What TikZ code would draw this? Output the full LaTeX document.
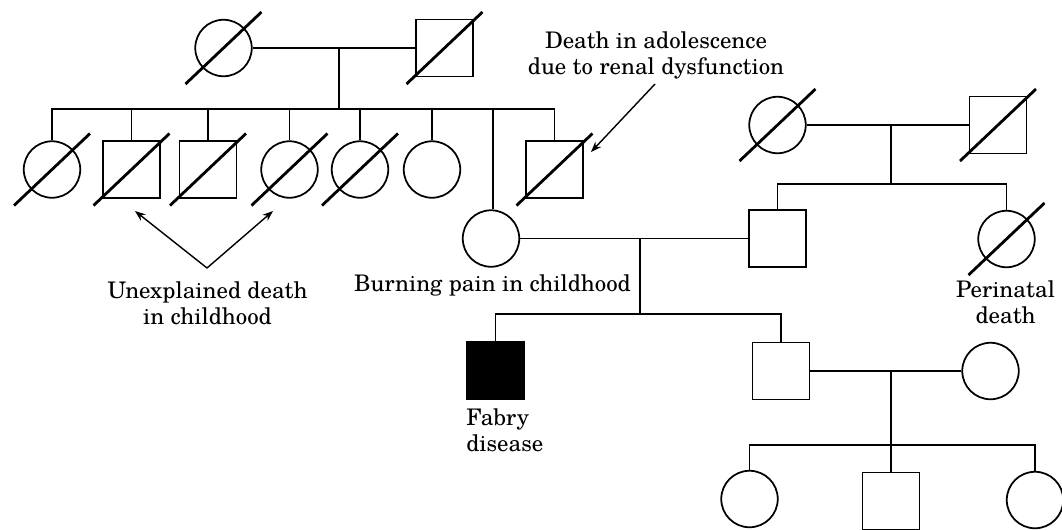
\documentclass[tikz,border=0pt]{standalone}
\usepackage{fontspec}
\setmainfont{TeX Gyre Schola}
\usepackage{tikz}
\usetikzlibrary{arrows.meta, calc}

\tikzset{
  female/.style={circle, draw, line width=1pt, minimum size=1.13cm, inner sep=0pt},
  male/.style={rectangle, draw, line width=1pt, minimum size=1.14cm, inner sep=0pt},
  affected/.style={fill=black},
  slash/.style={line width=1.6pt},
  link/.style={line width=0.6pt},
  note/.style={font=\fontsize{13}{14.8}\selectfont, align=center, anchor=base, inner sep=0pt},
  pointer/.style={line width=0.8pt, -{Stealth[length=6pt, width=4.5pt]}}
}

\begin{document}
\begin{tikzpicture}[x=0.02cm, y=-0.02cm]
\useasboundingbox (0,0) rectangle (1062,529);
% generation I
\node[female] (gmL) at (223.5,48) {};
\node[male] (gpL) at (444.5,48) {};
\node[female] (gmR) at (777.5,125) {};
\node[male] (gpR) at (998,125) {};
% generation II
\node[female] (a1) at (52,169.5) {};
\node[male] (a2) at (131.5,169.5) {};
\node[male] (a3) at (208,169.5) {};
\node[female] (a4) at (289.5,169.5) {};
\node[female] (a5) at (360,169.5) {};
\node[female] (a6) at (432,169.5) {};
\node[female] (mother) at (491,238.5) {};
\node[male] (a8) at (554.5,169.5) {};
\node[male] (father) at (777.5,238.5) {};
\node[female] (b2) at (1006.5,239) {};
% generation III
\node[male, affected] (proband) at (495.5,370.5) {};
\node[male] (brother) at (781,371) {};
\node[female] (wife) at (990.5,371) {};
% generation IV
\node[female] (c1) at (749.5,499) {};
\node[male] (c2) at (891,501) {};
\node[female] (c3) at (1035,500) {};

\coordinate (m1) at (339,48);   \coordinate (s1) at (339,109);
\coordinate (m2) at (891,125);  \coordinate (s2) at (891,184);
\coordinate (m3) at (640,238.5);\coordinate (s3) at (640,314);
\coordinate (m4) at (891,371);  \coordinate (s4) at (891,445);

\draw[link] (gmL) -- (gpL);
\draw[link] (gmR) -- (gpR);
\draw[link] (mother) -- (father);
\draw[link] (brother) -- (wife);
\draw[link] (m1) -- (s1);
\draw[link] (m2) -- (s2);
\draw[link] (m3) -- (s3);
\draw[link] (m4) -- (s4);
\foreach \c in {a1,a2,a3,a4,a5,a6,a8} \draw[link] (\c.north) |- (s1);
\draw[link] ([xshift=0.04cm]mother.north) |- (s1);
\foreach \c in {father,b2} \draw[link] (\c.north) |- (s2);
\foreach \c in {proband,brother} \draw[link] (\c.north) |- (s3);
\foreach \c in {c1,c2,c3} \draw[link] (\c.north) |- (s4);

\foreach \d in {gmL,gpL,gmR,gpR,a1,a2,a3,a4,a5,a8,b2}
  \draw[slash] ($(\d)+(-38,36)$) -- ($(\d)+(38,-36)$);

\node[note] (txtU) at (207.5,324) {Unexplained death\\in childhood};
\node[note] (txtD) at (656,74) {Death in adolescence\\due to renal dysfunction};
\node[note] (txtB) at (492.5,291) {Burning pain in childhood};
\node[note] (txtP) at (1005.5,323) {Perinatal\\death};
\node[note, align=left, anchor=base west] (txtF) at (466,451) {Fabry\\disease};

\coordinate (uv) at (207,268);
\coordinate (uL) at (135,211);
\coordinate (uR) at (273,211);
\coordinate (dTail) at (655,84);
\coordinate (dTip) at (591,152);
\draw[pointer] (uv) -- (uL);
\draw[pointer] (uv) -- (uR);
\draw[pointer] (dTail) -- (dTip);
\end{tikzpicture}
\end{document}
